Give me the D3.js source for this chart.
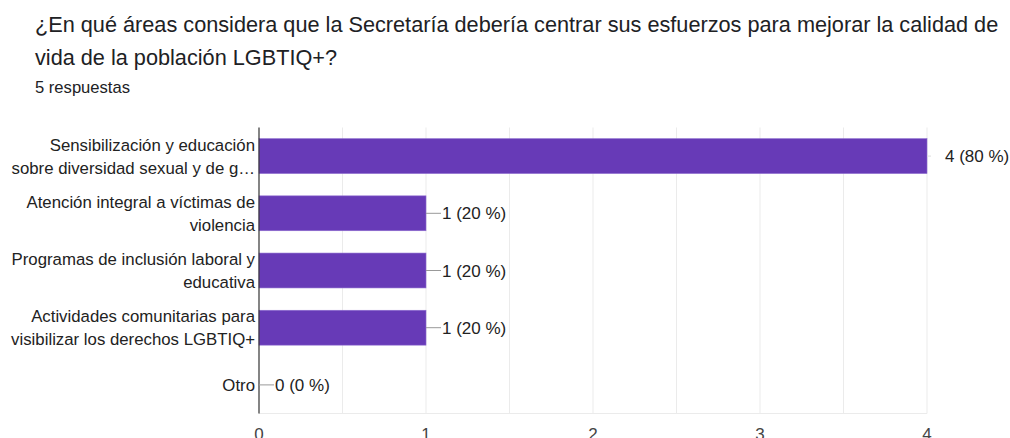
<!DOCTYPE html>
<html><head><meta charset="utf-8">
<script src="https://cdn.jsdelivr.net/npm/d3@7"></script>
<style>
html,body{margin:0;padding:0;background:#fff;overflow:hidden}
svg{display:block}
</style></head>
<body>
<svg id="c" width="1010" height="438"></svg>
<script>
const titleLines = ["¿En qué áreas considera que la Secretaría debería centrar sus esfuerzos para mejorar la calidad de", "vida de la población LGBTIQ+?"];
const subtitle = "5 respuestas";
const categories = [
  ["Sensibilización y educación", "sobre diversidad sexual y de g…"],
  ["Atención integral a víctimas de", "violencia"],
  ["Programas de inclusión laboral y", "educativa"],
  ["Actividades comunitarias para", "visibilizar los derechos LGBTIQ+"],
  ["Otro"]
];
const values = [4, 1, 1, 1, 0];
const valueLabels = ["4 (80 %)", "1 (20 %)", "1 (20 %)", "1 (20 %)", "0 (0 %)"];
const xTicks = [0, 1, 2, 3, 4];
const gridTicks = [0.5, 1, 1.5, 2, 2.5, 3, 3.5, 4];

(function () {
const svg = d3.select("#c");
const labFont = "'Liberation Sans', Arial, sans-serif";

svg.append("g").selectAll("text").data(titleLines).join("text")
  .attr("x", 35).attr("y", (d, i) => 32 + i * 33)
  .attr("font-family", labFont).attr("font-size", 21.7)
  .attr("fill", "#202124").text(d => d);
svg.append("text").attr("x", 35).attr("y", 93)
  .attr("font-family", labFont).attr("font-size", 16.6)
  .attr("fill", "#202124").text(subtitle);

const pl = 259, pr = 927, pt = 127.5, pb = 413.5;
const x = d3.scaleLinear().domain([0, 4]).range([pl, pr]);
const y = d3.scaleBand().domain(d3.range(categories.length)).range([pt, pb]).paddingInner(0.39).paddingOuter(0.195);

svg.append("g").selectAll("line").data(gridTicks).join("line")
  .attr("x1", d => x(d)).attr("x2", d => x(d)).attr("y1", pt).attr("y2", pb)
  .attr("stroke", "#ebebeb").attr("stroke-width", 1);
svg.append("line").attr("x1", pl).attr("x2", pr).attr("y1", pb).attr("y2", pb)
  .attr("stroke", "#ebebeb");

svg.append("g").selectAll("rect").data(values).join("rect")
  .attr("x", x(0)).attr("y", (d, i) => y(i))
  .attr("width", d => x(d) - x(0)).attr("height", y.bandwidth())
  .attr("fill", "#673ab7").attr("stroke", "#8e6cd0").attr("stroke-width", 0.6);

svg.append("line").attr("x1", pl).attr("x2", pl).attr("y1", pt).attr("y2", pb)
  .attr("stroke", "#333").attr("stroke-width", 1.2);

const vg = svg.append("g");
values.forEach((v, i) => {
  const cy = y(i) + y.bandwidth() / 2;
  const x0 = x(v);
  const big = v === 4;
  vg.append("line").attr("x1", x0).attr("x2", x0 + (big ? 4 : 15)).attr("y1", cy).attr("y2", cy)
    .attr("stroke", big ? "#ddd" : "#999").attr("stroke-width", 1);
  vg.append("text").attr("x", x0 + (big ? 18 : 16)).attr("y", cy + 6)
    .attr("font-family", labFont).attr("font-size", 17).attr("fill", "#222").text(valueLabels[i]);
});

const cg = svg.append("g");
categories.forEach((lines, i) => {
  const cy = y(i) + y.bandwidth() / 2;
  const n = lines.length;
  lines.forEach((t, j) => {
    cg.append("text").attr("x", 255).attr("y", cy + 6 + (j - (n - 1) / 2) * 23)
      .attr("text-anchor", "end").attr("font-family", labFont).attr("font-size", 16.8)
      .attr("fill", "#222").text(t);
  });
});

svg.append("g").selectAll("text").data(xTicks).join("text")
  .attr("x", d => x(d)).attr("y", 440).attr("text-anchor", "middle")
  .attr("font-family", labFont).attr("font-size", 17).attr("fill", "#444").text(d => d);
})();
</script>
</body></html>
